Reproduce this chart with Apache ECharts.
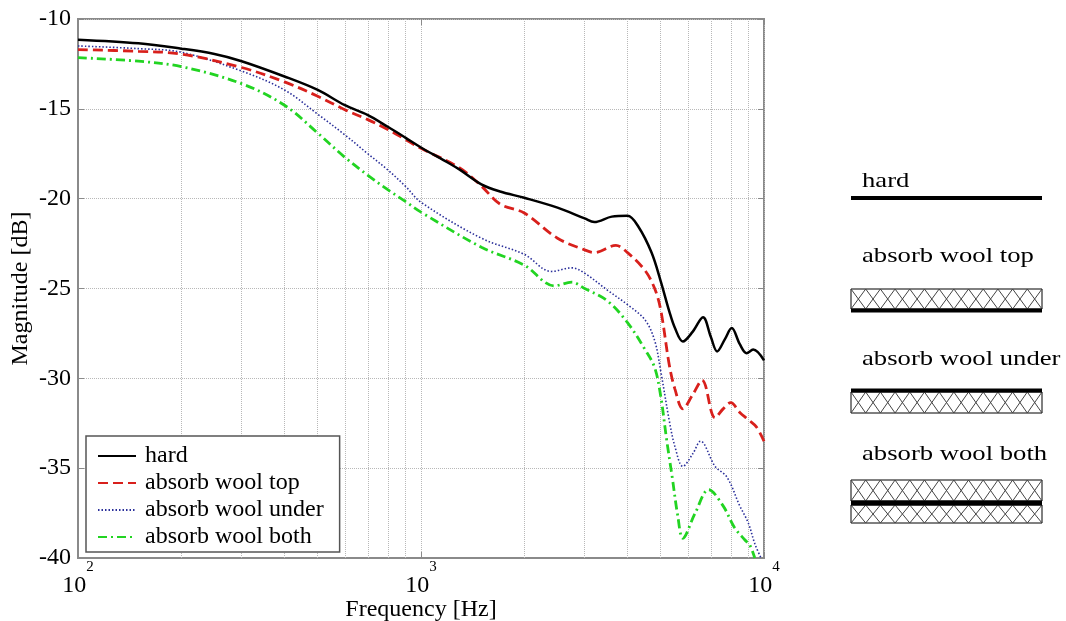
<!DOCTYPE html>
<html>
<head>
<meta charset="utf-8">
<script src="https://cdn.jsdelivr.net/npm/echarts@6/dist/echarts.min.js"></script>
<style>
html,body{margin:0;padding:0;background:#fff;}
#chart{width:1066px;height:621px;}
</style>
</head>
<body>
<div id="chart"></div>
<script>
// ---- data ----
const seriesNames = ['hard', 'absorb wool top', 'absorb wool under', 'absorb wool both'];

const hardFreq = [100,150,200,250,300,400,500,600,700,800,900,1000,1200,1300,1500,1700,2000,2500,3000,3200,3600,4000,4300,4700,5000,5300,5500,5800,6200,6640,7000,7300,7700,8050,8500,8900,9300,10000];
const hardDb   = [-11.15,-11.35,-11.65,-11.95,-12.35,-13.2,-13.95,-14.8,-15.35,-16.0,-16.6,-17.15,-18.0,-18.4,-19.2,-19.6,-19.95,-20.5,-21.1,-21.3,-21.0,-20.95,-21.55,-23.0,-24.6,-26.3,-27.2,-27.95,-27.4,-26.6,-27.7,-28.5,-27.8,-27.2,-28.1,-28.6,-28.4,-29.0];

const topFreq = [100,150,200,300,400,500,600,700,800,900,1000,1300,1500,1700,2000,2500,3000,3200,3700,4000,4500,4800,5000,5300,5500,5800,6200,6600,7200,7600,8000,8500,9000,9500,10000];
const topDb   = [-11.7,-11.8,-11.95,-12.7,-13.5,-14.3,-15.05,-15.6,-16.15,-16.7,-17.2,-18.3,-19.3,-20.3,-20.8,-22.2,-22.85,-23.0,-22.6,-23.0,-24.0,-25.0,-26.2,-29.3,-30.6,-31.7,-30.9,-30.1,-32.2,-31.7,-31.35,-31.9,-32.3,-32.7,-33.5];

const underFreq = [100,150,200,300,400,500,600,700,800,900,1000,1500,2000,2400,2750,3000,3500,4000,4500,4800,5000,5300,5500,5800,6200,6530,7200,7800,8500,9000,9400,9800];
const underDb   = [-11.5,-11.65,-11.85,-12.9,-13.95,-15.3,-16.45,-17.5,-18.4,-19.3,-20.2,-22.2,-23.1,-24.05,-23.85,-24.15,-25.1,-25.9,-26.75,-27.9,-29.6,-32.4,-33.8,-34.9,-34.2,-33.5,-34.9,-35.5,-37.1,-38.05,-39.2,-40.0];

const bothFreq = [100,150,200,300,400,500,600,700,800,900,1000,1500,2000,2450,2750,3000,3500,4000,4500,4800,5000,5200,5400,5600,5800,6300,6900,7600,8200,8800,9100,9400];
const bothDb   = [-12.15,-12.35,-12.65,-13.6,-14.8,-16.35,-17.7,-18.7,-19.5,-20.15,-20.75,-22.7,-23.7,-24.85,-24.65,-25.0,-25.7,-26.9,-28.4,-29.4,-31.0,-33.4,-35.5,-37.6,-38.9,-37.5,-36.2,-37.1,-38.3,-39.0,-39.3,-40.0];

const xTickExponents = [2, 3, 4];
const yTicks = [-10, -15, -20, -25, -30, -35, -40];
const minorGridFreqs = [200,300,400,500,600,700,800,900,2000,3000,4000,5000,6000,7000,8000,9000];

const diagramLabels = ['hard', 'absorb wool top', 'absorb wool under', 'absorb wool both'];

// ---- build ----
function zip(f, d) { return f.map((v, i) => [v, d[i]]); }

const FONT = '"Liberation Serif", "Times New Roman", serif';
const gridColor = '#b8b8b8';
const frameColor = '#8a8a8a';

const chart = echarts.init(document.getElementById('chart'), null, {renderer: 'canvas'});

function hatchRect(x, y, w, h, n) {
  const cw = w / n;
  const a = [], b = [];
  for (let i = 0; i <= n; i++) {
    a.push([x + i * cw, (i % 2 === 0) ? y : y + h]);
    b.push([x + i * cw, (i % 2 === 0) ? y + h : y]);
  }
  return [
    {type: 'rect', shape: {x: x, y: y, width: w, height: h}, style: {fill: '#fff', stroke: '#000', lineWidth: 1}, z: 10},
    {type: 'polyline', shape: {points: a}, style: {stroke: '#444', lineWidth: 1, fill: null}, z: 11},
    {type: 'polyline', shape: {points: b}, style: {stroke: '#444', lineWidth: 1, fill: null}, z: 11}
  ];
}
function bar(x, y, w, h) {
  return {type: 'rect', shape: {x: x, y: y, width: w, height: h}, style: {fill: '#000'}, z: 12};
}
function label(text, x, y) {
  return {type: 'text', x: x, y: y, scaleX: 1.27, z: 12,
    style: {text: text, font: '21px ' + FONT, fill: '#000', verticalAlign: 'middle', align: 'left'}};
}

const DX = 851, DW = 191;
const graphics = [].concat(
  [label(diagramLabels[0], 862, 181), bar(DX, 196, DW, 4)],
  [label(diagramLabels[1], 862, 256)], hatchRect(DX, 289, DW, 20, 13), [bar(DX, 308.5, DW, 4)],
  [label(diagramLabels[2], 862, 359)], [bar(DX, 388.5, DW, 4)], hatchRect(DX, 392, DW, 21, 13),
  [label(diagramLabels[3], 862, 454)], hatchRect(DX, 480, DW, 21, 13), [bar(DX, 500.5, DW, 5)], hatchRect(DX, 505, DW, 18, 13)
);

const lineCommon = {type: 'line', showSymbol: false, symbol: 'none', smooth: 0.35, animation: false, z: 3};

const option = {
  backgroundColor: '#fff',
  animation: false,
  grid: {left: 78, top: 19, width: 686, height: 539, show: true, borderColor: frameColor, borderWidth: 2,
    backgroundColor: 'transparent', containLabel: false, outerBoundsMode: 'none'},
  legend: {
    data: seriesNames,
    orient: 'vertical',
    left: 86, top: 436,
    backgroundColor: '#fff',
    borderColor: '#555', borderWidth: 1.5,
    padding: [8, 16, 3, 11],
    itemWidth: 38, itemHeight: 20, itemGap: 3,
    itemStyle: {opacity: 0},
    textStyle: {fontFamily: FONT, fontSize: 24, color: '#000', lineHeight: 20, padding: [0, 0, 0, 4]},
    z: 20
  },
  xAxis: [{
    type: 'log', logBase: 10, min: 100, max: 10000,
    name: 'Frequency [Hz]', nameLocation: 'middle', nameGap: 40, nameMoveOverlap: false,
    nameTextStyle: {fontFamily: FONT, fontSize: 24, color: '#000'},
    axisLine: {show: true, lineStyle: {color: frameColor, width: 2}},
    axisTick: {show: true, inside: true, length: 6, lineStyle: {color: frameColor}},
    splitLine: {show: true, lineStyle: {color: gridColor, type: 'dotted', width: 1}},
    axisLabel: {
      margin: 2,
      formatter: function (v) {
        const e = Math.round(Math.log10(v));
        return xTickExponents.indexOf(e) >= 0 ? '{b|10}{s|' + e + '}' : '';
      },
      rich: {
        b: {fontFamily: FONT, fontSize: 24, lineHeight: 24, color: '#000', verticalAlign: 'top', padding: [14, 0, 0, 0]},
        s: {fontFamily: FONT, fontSize: 15, lineHeight: 16, color: '#000', verticalAlign: 'top', padding: [0, 0, 0, 0]}
      }
    }
  }, {
    type: 'log', logBase: 10, min: 100, max: 10000, position: 'top',
    axisLine: {show: false}, axisLabel: {show: false}, splitLine: {show: false},
    axisTick: {show: true, inside: true, length: 6, lineStyle: {color: frameColor}}
  }],
  yAxis: [{
    type: 'value', min: yTicks[yTicks.length - 1], max: yTicks[0], interval: 5,
    name: 'Magnitude [dB]', nameLocation: 'middle', nameGap: 45, nameMoveOverlap: false,
    nameTextStyle: {fontFamily: FONT, fontSize: 24, color: '#000'},
    axisLine: {show: true, lineStyle: {color: frameColor, width: 2}},
    axisTick: {show: true, inside: true, length: 6, lineStyle: {color: frameColor}},
    splitLine: {show: true, lineStyle: {color: gridColor, type: 'dotted', width: 1}},
    axisLabel: {fontFamily: FONT, fontSize: 24, color: '#000', margin: 7,
      formatter: function (v) { return yTicks.indexOf(v) >= 0 ? String(v) : ''; }}
  }, {
    type: 'value', min: yTicks[yTicks.length - 1], max: yTicks[0], interval: 5, position: 'right',
    axisLine: {show: false}, axisLabel: {show: false}, splitLine: {show: false},
    axisTick: {show: true, inside: true, length: 6, lineStyle: {color: frameColor}}
  }],
  series: [
    {
      name: '__grid', type: 'line', data: [], z: 1, silent: true, animation: false,
      markLine: {
        silent: true, symbol: ['none', 'none'], animation: false, z: 1,
        label: {show: false},
        lineStyle: {color: gridColor, type: 'dotted', width: 1},
        data: minorGridFreqs.map(f => ({xAxis: f}))
      }
    },
    Object.assign({}, lineCommon, {name: seriesNames[0], data: zip(hardFreq, hardDb), z: 6,
      lineStyle: {color: '#000', width: 2.5, type: 'solid'}, itemStyle: {color: '#000'}}),
    Object.assign({}, lineCommon, {name: seriesNames[1], data: zip(topFreq, topDb), z: 5,
      lineStyle: {color: '#d8201c', width: 2.8, type: [10, 5]}, itemStyle: {color: '#d8201c'}}),
    Object.assign({}, lineCommon, {name: seriesNames[2], data: zip(underFreq, underDb), z: 4,
      lineStyle: {color: '#2a2f9a', width: 1.6, type: [1.5, 2]}, itemStyle: {color: '#2a2f9a'}}),
    Object.assign({}, lineCommon, {name: seriesNames[3], data: zip(bothFreq, bothDb), z: 4,
      lineStyle: {color: '#22d422', width: 2.8, type: [9, 4, 2, 4]}, itemStyle: {color: '#22d422'}})
  ],
  graphic: graphics
};
chart.setOption(option);
</script>
</body>
</html>
